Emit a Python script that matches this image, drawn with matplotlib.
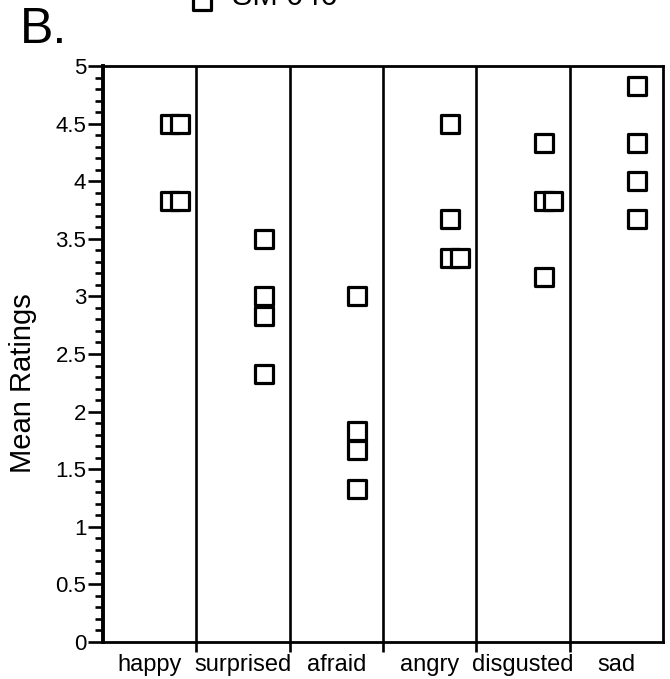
import matplotlib
matplotlib.use("Agg")
import matplotlib.pyplot as plt
from matplotlib.markers import MarkerStyle
from matplotlib.ticker import MultipleLocator, FixedLocator, NullFormatter
import numpy as np

plt.rcParams['font.family'] = ['Liberation Sans', 'DejaVu Sans']

# --- data ---
categories = ['happy', 'surprised', 'afraid', 'angry', 'disgusted', 'sad']
happy = [4.5, 4.5, 3.83, 3.83]
surprised = [3.5, 3.0, 2.83, 2.33]
afraid = [3.0, 1.83, 1.67, 1.33]
angry = [4.5, 3.67, 3.33, 3.33]
disgusted = [4.33, 3.83, 3.83, 3.17]
sad = [4.83, 4.33, 4.0, 3.67]
ratings = [happy, surprised, afraid, angry, disgusted, sad]
series_label = 'SM 046'
y_ticks = np.arange(0, 5.01, 0.5)
y_tick_labels = ['0', '0.5', '1', '1.5', '2', '2.5', '3', '3.5', '4', '4.5', '5']

fig = plt.figure(figsize=(6.7, 6.79), dpi=100)
ax = fig.add_axes([0.1537, 0.0545, 0.8359, 0.8483])

square = MarkerStyle('s', joinstyle='round')
marker_kw = dict(marker=square, markersize=12.6, markerfacecolor='white',
                 markeredgecolor='black', markeredgewidth=2.3, linestyle='none')

# points: same value within a category gets nudged to the right
for i, vals in enumerate(ratings):
    seen = {}
    for v in vals:
        k = seen.get(v, 0)
        seen[v] = k + 1
        ax.plot(i + 0.72 + 0.1 * k, v, zorder=3, clip_on=False, **marker_kw)

# category dividers
for i in range(1, len(categories)):
    ax.axvline(i, color='black', lw=1.9, zorder=2)

ax.set_xlim(0, len(categories))
ax.set_ylim(0, 5)

# y axis
ax.yaxis.set_major_locator(FixedLocator(y_ticks))
ax.set_yticklabels(y_tick_labels, fontsize=16)
ax.yaxis.set_minor_locator(MultipleLocator(0.1))
ax.tick_params(axis='y', which='major', direction='out', length=10.5, width=1.9, pad=1.5)
ax.tick_params(axis='y', which='minor', direction='out', length=5.5, width=1.9)
ax.set_ylabel('Mean Ratings', fontsize=21)
ax.yaxis.set_label_coords(-0.118, 0.45)

# x axis: ticks at dividers, labels at category centres
ax.xaxis.set_major_locator(FixedLocator(np.arange(1, len(categories))))
ax.xaxis.set_major_formatter(NullFormatter())
ax.xaxis.set_minor_locator(FixedLocator(np.arange(len(categories)) + 0.5))
ax.set_xticklabels(categories, minor=True, fontsize=17)
ax.tick_params(axis='x', which='major', direction='out', length=7, width=1.9)
ax.tick_params(axis='x', which='minor', length=0, pad=9)

for side in ['top', 'right', 'bottom']:
    ax.spines[side].set_linewidth(2.0)
ax.spines['left'].set_linewidth(2.8)

# panel letter and legend (the source scan crops its top)
fig.text(0.03, 0.937, 'B.', fontsize=36, ha='left', va='baseline')
fig.lines.append(plt.Line2D([0.302], [0.998], transform=fig.transFigure, **marker_kw))
fig.text(0.347, 0.992, series_label, fontsize=22, ha='left', va='baseline')

fig.savefig('out.png', dpi=100)
